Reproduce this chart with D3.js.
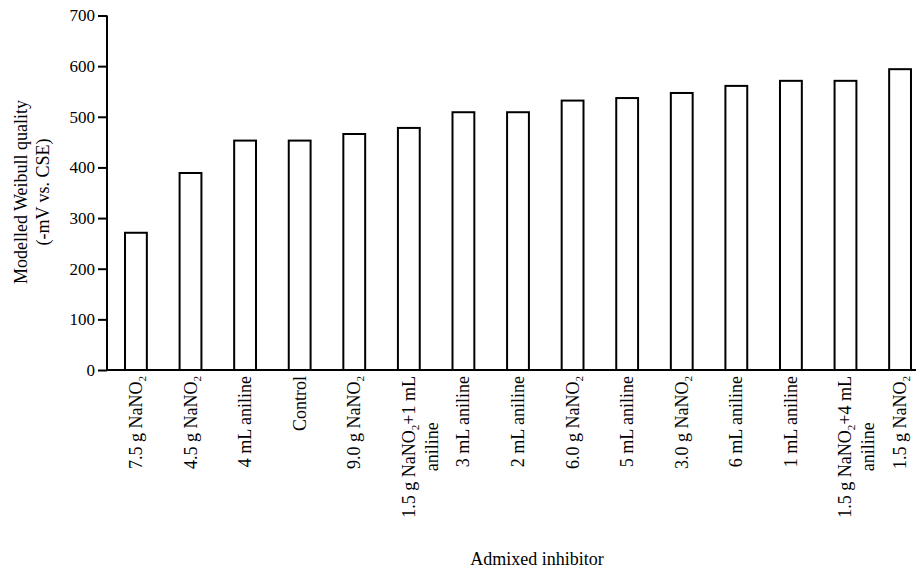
<!DOCTYPE html>
<html><head><meta charset="utf-8">
<script src="https://cdn.jsdelivr.net/npm/d3@7"></script>
<style>body{margin:0;background:#fff}svg{display:block}</style>
</head><body><svg id="c" width="916" height="569" style="font-family:'Liberation Serif','Times New Roman',serif"></svg>
<script>
const categories = ["7.5 g NaNO2","4.5 g NaNO2","4 mL aniline","Control","9.0 g NaNO2","1.5 g NaNO2+1 mL|aniline","3 mL aniline","2 mL aniline","6.0 g NaNO2","5 mL aniline","3.0 g NaNO2","6 mL aniline","1 mL aniline","1.5 g NaNO2+4 mL|aniline","1.5 g NaNO2"];
const values = [271, 389, 453, 453, 466, 478, 509, 509, 532, 537, 547, 561, 571, 571, 594];
const yTicks = [0,100,200,300,400,500,600,700];
const yTitle = ["Modelled Weibull quality","(-mV vs. CSE)"];
const xTitle = "Admixed inhibitor";

const FONT = "'Liberation Serif','Times New Roman',serif";
const svg = d3.select("#c");
const x0 = 107, y0 = 370, yTop = 15.5;
const x = d3.scaleBand().domain(categories).range([x0, 929]).paddingInner(0.6).paddingOuter(0.33);
const y = d3.scaleLinear().domain([0,700]).range([y0, yTop]);

// bars
svg.append("g").selectAll("rect").data(categories).join("rect")
  .attr("x", d => x(d)).attr("width", x.bandwidth())
  .attr("y", (d,i) => y(values[i])).attr("height", (d,i) => y(0) - y(values[i]))
  .attr("fill", "#fff").attr("stroke", "#000").attr("stroke-width", 2);

// y axis
const ya = svg.append("g").attr("transform", `translate(${x0},0)`)
  .call(d3.axisLeft(y).tickValues(yTicks).tickSize(9).tickPadding(3).tickFormat(d3.format("d")));
ya.attr("font-family", FONT).attr("font-size", 17);
ya.select(".domain").attr("stroke-width", 2).attr("d", `M-0,${y(700)}V${y(0)}`);
ya.selectAll(".tick line").attr("stroke-width", 2);
ya.selectAll(".tick text").style("font-family", FONT).style("font-size", "17px");

// x axis line
svg.append("line").attr("x1", x0-1).attr("x2", 916).attr("y1", y0).attr("y2", y0)
  .attr("stroke", "#000").attr("stroke-width", 2);

// category labels
function addText(t, str) {
  const parts = str.split("NaNO2");
  let shifted = false;
  parts.forEach((p, i) => {
    if (i > 0) {
      t.append("tspan").text("NaNO");
      t.append("tspan").text("2").style("font-size", "11px").attr("dy", 4);
      shifted = true;
    }
    if (p) {
      const s = t.append("tspan").text(p);
      if (shifted) { s.attr("dy", -4); shifted = false; }
    }
  });
}
const lg = svg.append("g");
categories.forEach((c) => {
  const lines = c.split("|");
  const g = lg.append("g").attr("transform", `translate(${x(c) + x.bandwidth()/2},${y0 + 6}) rotate(-90)`);
  if (lines.length === 1) {
    const t = g.append("text").attr("text-anchor", "end").attr("x", 0).attr("y", 6)
      .style("font-family", FONT).style("font-size", "18px");
    addText(t, lines[0]);
  } else {
    const ts = lines.map((l, i) => {
      const t = g.append("text").attr("text-anchor", "middle").attr("y", 6 + i * 23)
        .style("font-family", FONT).style("font-size", "18px");
      addText(t, l);
      return t;
    });
    const maxLen = d3.max(ts, t => t.node().getComputedTextLength());
    ts.forEach(t => t.attr("x", -maxLen / 2));
  }
});

// y title
const yt = svg.append("text").attr("transform", "translate(27,192) rotate(-90)").attr("text-anchor", "middle")
  .style("font-family", FONT).style("font-size", "18px");
yTitle.forEach((l, i) => yt.append("tspan").attr("x", 0).attr("y", i * 22).text(l));

// x title
svg.append("text").attr("x", 537).attr("y", 565).attr("text-anchor", "middle")
  .style("font-family", FONT).style("font-size", "18px").text(xTitle);
</script></body></html>
